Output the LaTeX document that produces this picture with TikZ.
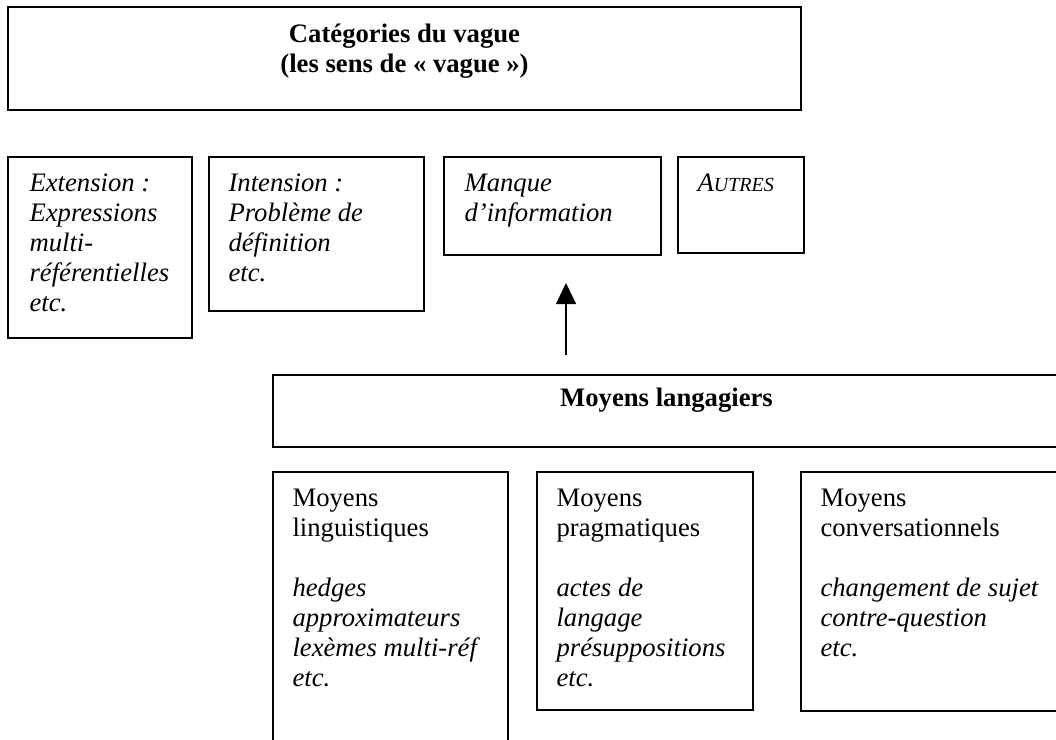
\documentclass[tikz,border=0pt]{standalone}
\usepackage{fontspec}
\setmainfont{Liberation Serif}
\usetikzlibrary{fit, arrows.meta}
\tikzset{box/.style={draw,line width=0.8pt,inner sep=0pt,fit={#1}},
         boxtext/.style={anchor=base west,align=left,inner sep=0pt,font=\fontsize{12}{13.5}\selectfont},
         headtext/.style={anchor=base,align=center,inner sep=0pt,font=\fontsize{12}{13.5}\selectfont\bfseries},
         up/.style={-{Triangle[width=9pt,length=9.5pt]},line width=0.6pt},
        }

\begin{document}
\begin{tikzpicture}[x=0.45pt,y=-0.45pt]
        \clip(0,0)rectangle(1056,740);
        \fill[white](0,0)rectangle(1056,740);

        \node[box={(8,7)(801,110)}](cat){};
        \node[box={(8,157)(192,338)}](ext){};
        \node[box={(209,157)(424,311)}](int){};
        \node[box={(444,157)(661,255)}](man){};
        \node[box={(678,157)(804,253)}](aut){};
        \node[box={(273,375)(1060,447)}](lang){};
        \node[box={(273,472)(508,760)}](ling){};
        \node[box={(537,472)(753,710)}](prag){};
        \node[box={(801,472)(1070,711)}](conv){};

        % base anchor sits on the last line
        \node[headtext](cattxt)at([shift={(0,66)}]cat.north){Catégories du vague\\(les sens de « vague »)};
        \node[boxtext](exttxt)at([shift={(22,155)}]ext.north west){\textit{Extension :}\\\textit{Expressions}\\\textit{multi-}\\\textit{référentielles}\\\textit{etc.}};
        \node[boxtext](inttxt)at([shift={(20,125)}]int.north west){\textit{Intension :}\\\textit{Problème de}\\\textit{définition}\\\textit{etc.}};
        \node[boxtext](mantxt)at([shift={(21,65)}]man.north west){\textit{Manque}\\\textit{d’information}};
        \node[boxtext](auttxt)at([shift={(20,35)}]aut.north west){\textit{A{\fontsize{9}{10}\selectfont UTRES}}};
        \node[headtext](langtxt)at([shift={(0,32)}]lang.north){Moyens langagiers};
        \node[boxtext](lingtxt)at([shift={(20,215)}]ling.north west){Moyens\\linguistiques\\\mbox{}\\\textit{hedges}\\\textit{approximateurs}\\\textit{lexèmes multi-réf}\\\textit{etc.}};
        \node[boxtext](pragtxt)at([shift={(20,215)}]prag.north west){Moyens\\pragmatiques\\\mbox{}\\\textit{actes de}\\\textit{langage}\\\textit{présuppositions}\\\textit{etc.}};
        \node[boxtext](convtxt)at([shift={(20,185)}]conv.north west){Moyens\\conversationnels\\\mbox{}\\\textit{changement de sujet}\\\textit{contre-question}\\\textit{etc.}};

        \coordinate(foot)at(566,355);
        \coordinate(tip)at(566,283);
        \draw[up](foot)--(tip);
    \end{tikzpicture}
\end{document}
